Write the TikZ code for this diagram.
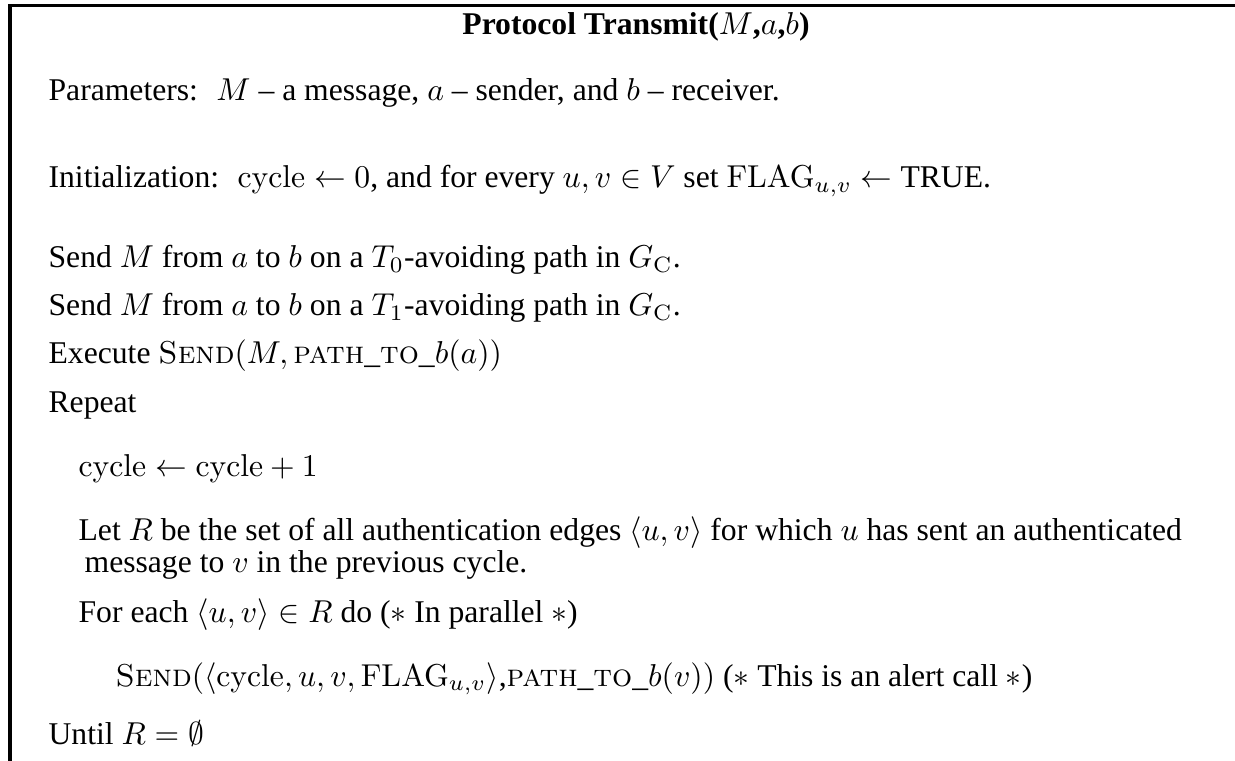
\documentclass[tikz,border=0pt]{standalone}
\usepackage[no-math]{fontspec}
\newfontfamily\tms[Ligatures=TeX]{Liberation Serif}
\newcommand{\Snd}{{\normalfont\scshape Send}}
\newcommand{\PTB}{{\normalfont\scshape path{\tms\_}to{\tms\_}}}
\begin{document}
\begin{tikzpicture}[x=0.316pt,y=-0.316pt,
  txt/.style={anchor=base west, inner sep=0pt, font=\tms},
  frame/.style={line width=0.95pt, line cap=rect}]
\useasboundingbox (0,0) rectangle (1235,761);
\draw[frame] (10,775) -- (10,6) -- (1245,6);
\node[anchor=base, inner sep=0pt, font=\tms] (title) at (636,35) {\textbf{Protocol Transmit(}$M$\textbf{,}$a$\textbf{,}$b$\textbf{)}};
\node[txt] (params) at (48,101) {Parameters: \ $M$ -- a message, $a$ -- sender, and $b$ -- receiver.};
\node[txt] (init) at (48,188) {Initialization: \ $\mathrm{cycle}\leftarrow 0$, and for every $u,v\in V$ set $\mathrm{FLAG}_{u,v}\leftarrow$ TRUE.};
\node[txt] (send0) at (48,268) {Send $M$ from $a$ to $b$ on a $T_0$-avoiding path in $G_{\mathrm{C}}$.};
\node[txt] (send1) at (48,316) {Send $M$ from $a$ to $b$ on a $T_1$-avoiding path in $G_{\mathrm{C}}$.};
\node[txt] (exec) at (48,363) {Execute \Snd$(M,\,$\PTB$b(a))$};
\node[txt] (rep) at (48,412) {Repeat};
\node[txt] (cyc) at (78,476) {$\mathrm{cycle}\leftarrow\mathrm{cycle}+1$};
\node[txt] (letr) at (78,540) {Let $R$ be the set of all authentication edges $\langle u,v\rangle$ for which $u$ has sent an authenticated};
\node[txt] (msg) at (84,572) {message to $v$ in the previous cycle.};
\node[txt] (fore) at (78,622) {For each $\langle u,v\rangle\in R$ do ($*$ In parallel $*$)};
\node[txt] (alert) at (115,686) {\Snd$(\langle\mathrm{cycle},u,v,\mathrm{FLAG}_{u,v}\rangle$,\PTB$b(v))$ ($*$ This is an alert call $*$)};
\node[txt] (until) at (48,744) {Until $R=\emptyset$};
\end{tikzpicture}
\end{document}
